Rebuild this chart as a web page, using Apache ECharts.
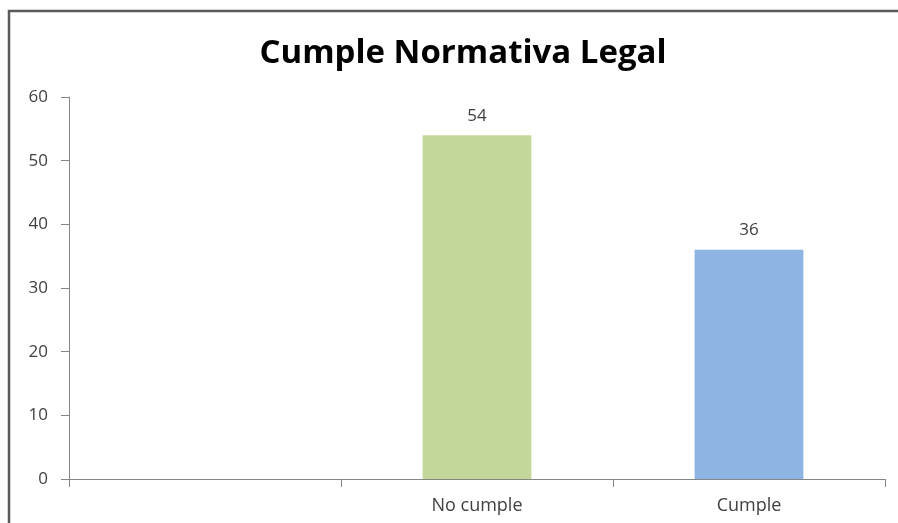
<!DOCTYPE html>
<html>
<head>
<meta charset="utf-8">
<script src="https://cdn.jsdelivr.net/npm/echarts@6/dist/echarts.min.js"></script>
<style>
  html, body { margin: 0; padding: 0; background: #ffffff; }
  #chart { width: 898px; height: 523px; }
</style>
</head>
<body>
<div id="chart"></div>
<script>
// Categories along the x axis (the first slot is left blank)
const categories = ['', 'No cumple', 'Cumple'];
// Count per category
const values = [null, 54, 36];
// Bar colour per category
const barColors = ['#C4D79B', '#C4D79B', '#8EB4E3'];
// Value axis range
const yMin = 0, yMax = 60, yStep = 10;

const chart = echarts.init(document.getElementById('chart'), null, { renderer: 'canvas' });

const labelFont = '"Open Sans", sans-serif';

chart.setOption({
  animation: false,
  backgroundColor: '#ffffff',
  title: {
    text: 'Cumple Normativa Legal',
    left: 458,
    top: 32,
    textAlign: 'center',
    textStyle: {
      fontFamily: labelFont,
      fontWeight: 'bold',
      fontSize: 33,
      color: '#000000'
    }
  },
  graphic: [{
    type: 'rect',
    shape: { x: 9, y: 11, width: 900, height: 540 },
    style: { fill: 'none', stroke: '#5a5a5a', lineWidth: 2.5 },
    silent: true,
    z: 100
  }],
  grid: { left: 69, top: 97, width: 816, height: 382, containLabel: false },
  xAxis: {
    type: 'category',
    data: categories,
    boundaryGap: true,
    axisLine: { lineStyle: { color: '#868686', width: 1 } },
    axisTick: { show: true, interval: 0, length: 8, lineStyle: { color: '#868686' } },
    axisLabel: {
      interval: 0,
      margin: 18,
      fontFamily: labelFont,
      fontSize: 18,
      color: '#404040'
    },
    splitLine: { show: false }
  },
  yAxis: {
    type: 'value',
    min: yMin,
    max: yMax,
    interval: yStep,
    axisLine: { show: true, lineStyle: { color: '#868686', width: 1 } },
    axisTick: { show: true, length: 8, lineStyle: { color: '#868686' } },
    axisLabel: {
      margin: 21,
      fontFamily: labelFont,
      fontSize: 17,
      color: '#404040'
    },
    splitLine: { show: false }
  },
  series: [{
    type: 'bar',
    data: values.map((v, i) => ({ value: v, itemStyle: { color: barColors[i] } })),
    barWidth: '40%',
    label: {
      show: true,
      position: 'top',
      distance: 11,
      fontFamily: labelFont,
      fontSize: 17,
      color: '#404040'
    }
  }]
});
</script>
</body>
</html>
